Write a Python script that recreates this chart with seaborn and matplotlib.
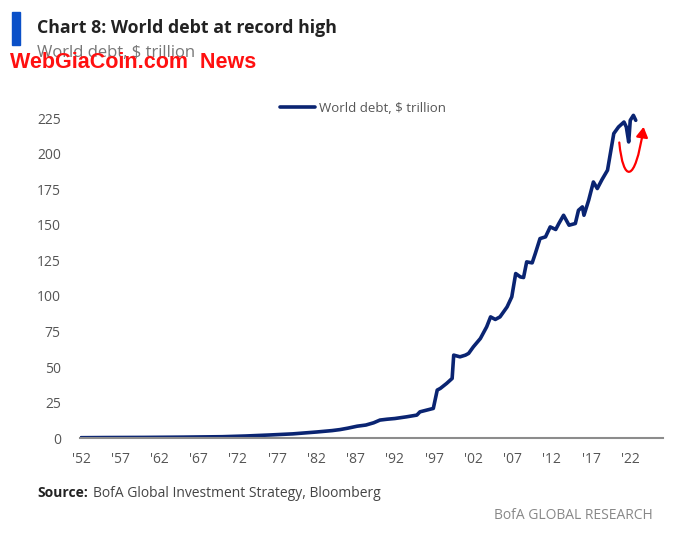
import numpy as np
import pandas as pd
import matplotlib.pyplot as plt
import seaborn as sns
from matplotlib.patches import FancyArrowPatch, Rectangle
from matplotlib.path import Path

# World debt, $ trillion
years = [1952, 1955, 1960, 1965, 1970, 1973, 1976, 1979, 1982, 1984,
         1985.0, 1986, 1987.2, 1988.3, 1989.3, 1990.1, 1991, 1992, 1993.5, 1994.8,
         1995.2, 1996.9, 1997.4, 1997.8, 1998.6, 1999.3, 1999.5, 2000.3, 2001, 2001.4,
         2002, 2002.9, 2003.7, 2004.2, 2004.8, 2005.4, 2006.3, 2006.9, 2007.4, 2008,
         2008.4, 2008.8, 2009.5, 2009.9, 2010.5, 2011.2, 2011.8, 2012.5, 2012.9, 2013.5,
         2014.2, 2015, 2015.4, 2015.9, 2016.1, 2016.7, 2017.3, 2017.8, 2018.4, 2019.1,
         2019.9, 2020.5, 2021.2, 2021.5, 2021.8, 2022, 2022.4, 2022.7]
debt = [0.3, 0.4, 0.5, 0.7, 1.0, 1.5, 2.2, 3.0, 4.3, 5.3,
        6.0, 7.0, 8.4, 9.2, 10.8, 12.7, 13.3, 13.8, 15.0, 16.2,
        18.5, 20.9, 33.8, 35.0, 38.5, 42.0, 58.4, 57.2, 58.4, 59.6,
        64.2, 70.1, 78.3, 85.3, 83.5, 85.3, 92.3, 99.4, 115.8, 113.4,
        113.0, 124.0, 123.3, 129.9, 140.4, 141.6, 148.6, 146.8, 151.0, 156.8,
        149.8, 151.0, 160.3, 162.7, 156.8, 167.4, 180.2, 175.6, 181.9, 188.5,
        214.3, 218.9, 222.4, 218.9, 208.4, 223.6, 227.1, 223.6]

tick_years = list(range(1952, 2023, 5))
tick_labels = ["'" + str(y)[2:] for y in tick_years]
y_ticks = [0, 25, 50, 75, 100, 125, 150, 175, 200, 225]

# red "rebound" arrow: start, two bezier controls, end (year, value)
arrow_pts = [(2020.6, 208), (2021.1, 180), (2022.6, 178), (2023.7, 219)]

df = pd.DataFrame({'year': years, 'debt': debt})

sns.set_style('white')
plt.rcParams['font.family'] = ['Open Sans', 'DejaVu Sans']

navy = '#0a2472'
grey = '#555555'

fig = plt.figure(figsize=(6.74, 5.33), dpi=100)
ax = fig.add_axes([0.119, 0.178, 0.865, 0.640])

sns.lineplot(data=df, x='year', y='debt', ax=ax, color=navy, linewidth=2.6,
             label='World debt, $ trillion')

ax.set_xlim(1951.9, 2026.2)
ax.set_ylim(0, 240)
ax.set_xticks(tick_years)
ax.set_xticklabels(tick_labels)
ax.set_yticks(y_ticks)
ax.tick_params(axis='both', length=0, labelsize=10, colors=grey)
ax.tick_params(axis='x', pad=10)
ax.tick_params(axis='y', pad=14)
ax.set_xlabel('')
ax.set_ylabel('')
for s in ['top', 'right', 'left']:
    ax.spines[s].set_visible(False)
ax.spines['bottom'].set_color('#8c8c8c')
ax.spines['bottom'].set_linewidth(1.5)

leg = ax.legend(loc='upper center', bbox_to_anchor=(0.485, 1.02), frameon=False,
                fontsize=9.5, handlelength=2.6, handletextpad=0.3)
for t in leg.get_texts():
    t.set_color(grey)

# red arrow along a cubic bezier
arrow_path = Path(arrow_pts, [Path.MOVETO, Path.CURVE4, Path.CURVE4, Path.CURVE4])
arrow = FancyArrowPatch(path=arrow_path, arrowstyle='-|>,head_length=6,head_width=3.5',
                        color='#ff0000', linewidth=1.6, mutation_scale=1)
ax.add_patch(arrow)

# header
fig.patches.append(Rectangle((0.018, 0.915), 0.012, 0.063, transform=fig.transFigure,
                             color='#0a50c8'))
fig.text(0.055, 0.948, 'Chart 8: World debt at record high', fontsize=12.8,
         fontweight='bold', color='#222222', va='center')
fig.text(0.055, 0.900, 'World debt, $ trillion', fontsize=12, color='#777777', va='center')
fig.text(0.015, 0.882, 'WebGiaCoin.com  News', fontsize=15.5, fontweight='bold',
         color='#ff1010', va='center', family=['Liberation Sans', 'DejaVu Sans'])

# footer
fig.text(0.055, 0.075, 'Source:', fontsize=10, fontweight='bold', color='#222222', va='center')
fig.text(0.138, 0.075, 'BofA Global Investment Strategy, Bloomberg', fontsize=10,
         color='#444444', va='center')
fig.text(0.968, 0.033, 'BofA GLOBAL RESEARCH', fontsize=10, color='#888888',
         va='center', ha='right')

fig.savefig('out.png', dpi=100)
